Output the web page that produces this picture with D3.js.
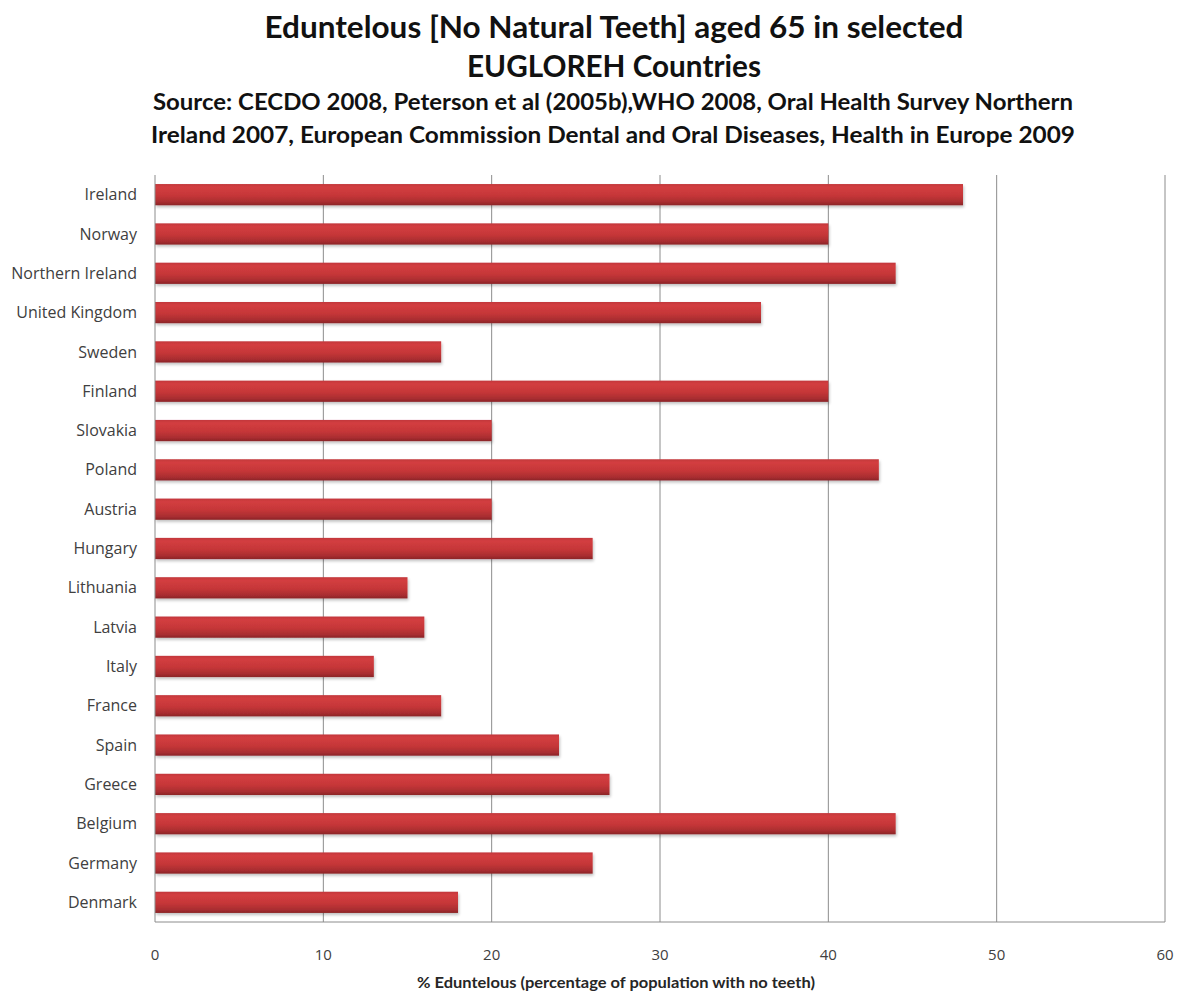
<!DOCTYPE html>
<html><head><meta charset="utf-8">
<script src="https://cdn.jsdelivr.net/npm/d3@7"></script>
<style>body{margin:0;background:#fff}svg{display:block}</style>
</head><body>
<svg id="c" width="1185" height="993"></svg>
<script>
const countries = ["Ireland","Norway","Northern Ireland","United Kingdom","Sweden","Finland","Slovakia","Poland","Austria","Hungary","Lithuania","Latvia","Italy","France","Spain","Greece","Belgium","Germany","Denmark"];
const values = [48,40,44,36,17,40,20,43,20,26,15,16,13,17,24,27,44,26,18];
const xTicks = [0,10,20,30,40,50,60];
const titleLines = ["Eduntelous [No Natural Teeth] aged 65 in selected","EUGLOREH Countries"];
const subtitleLines = ["Source: CECDO 2008, Peterson et al (2005b),WHO 2008, Oral Health Survey Northern","Ireland 2007, European Commission Dental and Oral Diseases, Health in Europe 2009"];
const xAxisTitle = "% Eduntelous (percentage of population  with no teeth)";

const svg = d3.select("#c");
const m = {left:155, right:1165, top:175, bottom:922};
const x = d3.scaleLinear().domain([0,60]).range([m.left, m.right]);
const y = d3.scaleBand().domain(countries).range([m.top, m.bottom]).paddingInner(0.46).paddingOuter(0.23);

const defs = svg.append("defs");
const g = defs.append("linearGradient").attr("id","bar").attr("x1",0).attr("y1",0).attr("x2",0).attr("y2",1);
g.append("stop").attr("offset","0%").attr("stop-color","#c2373b");
g.append("stop").attr("offset","15%").attr("stop-color","#d33e40");
g.append("stop").attr("offset","55%").attr("stop-color","#c53638");
g.append("stop").attr("offset","85%").attr("stop-color","#a82d30");
g.append("stop").attr("offset","100%").attr("stop-color","#8a2427");
const f = defs.append("filter").attr("id","sh").attr("x","-5%").attr("y","-30%").attr("width","110%").attr("height","170%");
f.append("feGaussianBlur").attr("in","SourceAlpha").attr("stdDeviation",1.5).attr("result","b");
f.append("feOffset").attr("in","b").attr("dx",1).attr("dy",2).attr("result","o");
f.append("feComponentTransfer").attr("in","o").attr("result","o2").append("feFuncA").attr("type","linear").attr("slope",0.25);
const fm = f.append("feMerge"); fm.append("feMergeNode").attr("in","o2"); fm.append("feMergeNode").attr("in","SourceGraphic");

// gridlines
svg.append("g").selectAll("line").data(xTicks.slice(1)).join("line")
  .attr("x1",d=>x(d)).attr("x2",d=>x(d)).attr("y1",m.top).attr("y2",m.bottom)
  .attr("stroke","#8c8c8c").attr("stroke-width",1);

// bars
svg.append("g").selectAll("rect").data(countries).join("rect")
  .attr("x",x(0)).attr("y",d=>y(d)).attr("height",y.bandwidth())
  .attr("width",(d,i)=>x(values[i])-x(0))
  .attr("fill","url(#bar)").attr("filter","url(#sh)");

// axes lines
svg.append("line").attr("x1",m.left).attr("x2",m.left).attr("y1",m.top).attr("y2",m.bottom).attr("stroke","#8c8c8c");
svg.append("line").attr("x1",m.left).attr("x2",m.right).attr("y1",m.bottom).attr("y2",m.bottom).attr("stroke","#8c8c8c");

const font = "Lato, 'Open Sans', sans-serif";
const lfont = "'Open Sans', Lato, sans-serif";
// y labels
svg.append("g").selectAll("text").data(countries).join("text")
  .attr("x",137).attr("y",d=>y(d)+y.bandwidth()/2).attr("dy","0.35em")
  .attr("text-anchor","end").attr("font-family",lfont).attr("font-size",16).attr("fill","#404040").text(d=>d);

// x ticks
svg.append("g").selectAll("text").data(xTicks).join("text")
  .attr("x",d=>x(d)).attr("y",960).attr("text-anchor","middle")
  .attr("font-family",lfont).attr("font-size",15).attr("fill","#404040").text(d=>d);

svg.append("text").attr("x",616).attr("y",988).attr("text-anchor","middle")
  .attr("font-family",font).attr("font-weight","bold").attr("font-size",15).attr("fill","#262626")
  .attr("textLength",398).attr("lengthAdjust","spacingAndGlyphs").text(xAxisTitle);

// titles
const tl = [[titleLines[0],38,31,699],[titleLines[1],77,31,294]];
tl.forEach(([t,yy,fs,w])=>svg.append("text").attr("x",614).attr("y",yy).attr("text-anchor","middle")
  .attr("font-family",font).attr("font-weight","bold").attr("font-size",fs).attr("fill","#111")
  .attr("textLength",w).attr("lengthAdjust","spacingAndGlyphs").text(t));
const sl = [[subtitleLines[0],110,22,920],[subtitleLines[1],143,22,924]];
sl.forEach(([t,yy,fs,w])=>svg.append("text").attr("x",613).attr("y",yy).attr("text-anchor","middle")
  .attr("font-family",font).attr("font-weight","bold").attr("font-size",fs).attr("fill","#111")
  .attr("textLength",w).attr("lengthAdjust","spacingAndGlyphs").text(t));
</script>
</body></html>
